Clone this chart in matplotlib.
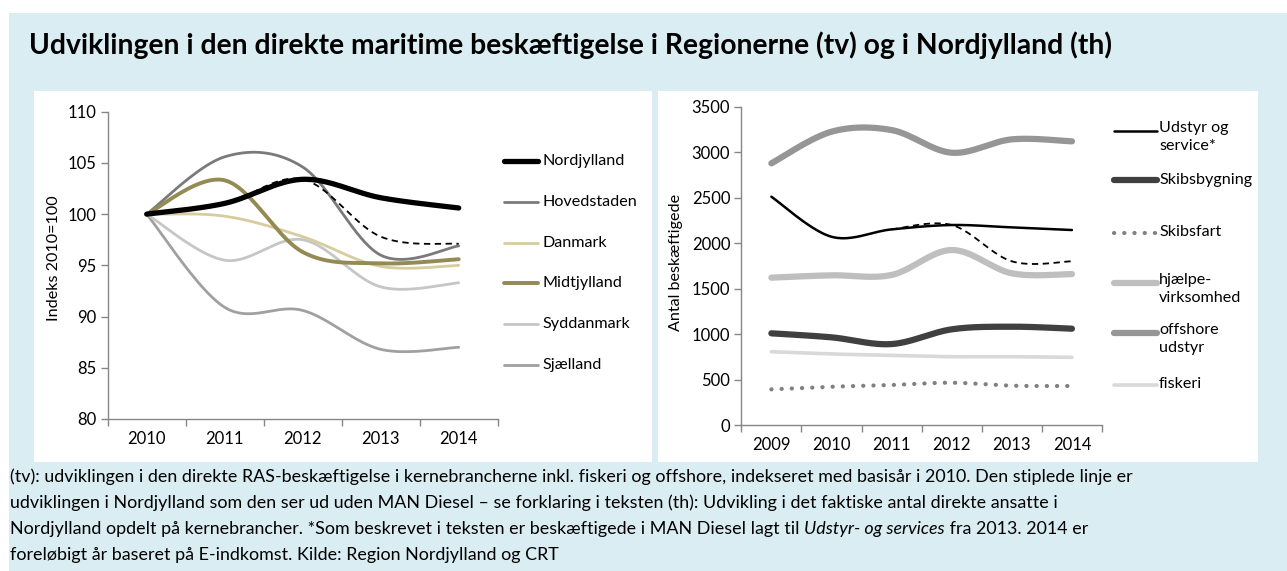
import numpy as np
import matplotlib
matplotlib.use("Agg")
import matplotlib.pyplot as plt
from matplotlib.lines import Line2D
from matplotlib.patches import Rectangle

plt.rcParams['font.family'] = ['Lato', 'DejaVu Sans']

# ---------------- data ----------------
years_left = ["2010", "2011", "2012", "2013", "2014"]
nordjylland = [100, 101.05, 103.4, 101.6, 100.6]
nordjylland_uden_man = [100, 101.05, 103.4, 97.8, 97.1]
hovedstaden = [100, 105.6, 104.6, 96.0, 96.9]
danmark = [100, 99.8, 97.8, 94.9, 95.0]
midtjylland = [100, 103.3, 96.3, 95.2, 95.6]
syddanmark = [100, 95.5, 97.5, 92.9, 93.3]
sjaelland = [100, 90.9, 90.6, 86.8, 87.0]

years_right = ["2009", "2010", "2011", "2012", "2013", "2014"]
udstyr = [2510, 2070, 2151, 2199, 2173, 2144]
udstyr_uden_man = [None, None, 2151, 2199, 1800, 1800]
skibsbygning = [1008, 964, 890, 1052, 1081, 1059]
skibsfart = [392, 421, 440, 465, 432, 429]
hjaelpe = [1620, 1646, 1650, 1924, 1668, 1660]
offshore = [2877, 3225, 3243, 2994, 3141, 3119]
fiskeri = [806, 781, 766, 751, 751, 744]

title = "Udviklingen i den direkte maritime beskæftigelse i Regionerne (tv) og i Nordjylland (th)"

W, H = 1287, 571
fig = plt.figure(figsize=(W / 100, H / 100), dpi=100, facecolor="white")

BLUE = "#DAEDF3"
AX = "#868686"
TICK_FS = 12.0
LEG_FS = 11.6


def fx(px):
    return px / W


def fy(py):
    return 1 - py / H


def rect(x0, y0, x1, y1, color):
    fig.add_artist(Rectangle((fx(x0), fy(y1)), fx(x1) - fx(x0), fy(y0) - fy(y1),
                             transform=fig.transFigure, facecolor=color,
                             edgecolor="none", zorder=0))


rect(9, 13, W, H, BLUE)
rect(34, 91, 652, 462, "white")
rect(658, 91, 1258, 462, "white")


def smooth(xs, ys, n=40):
    """Excel-style smoothed line (Catmull-Rom Bezier) through the points."""
    pts = [(x, y) for x, y in zip(xs, ys) if y is not None]
    P = np.array(pts, dtype=float)
    out = []
    for i in range(len(P) - 1):
        p0 = P[i - 1] if i > 0 else P[i]
        p1 = P[i]
        p2 = P[i + 1]
        p3 = P[i + 2] if i + 2 < len(P) else P[i + 1]
        c1 = p1 + (p2 - p0) / 6
        c2 = p2 - (p3 - p1) / 6
        t = np.linspace(0, 1, n)[:, None]
        seg = ((1 - t) ** 3) * p1 + 3 * ((1 - t) ** 2) * t * c1 + 3 * (1 - t) * t ** 2 * c2 + t ** 3 * p2
        if i > 0:
            seg = seg[1:]
        out.append(seg)
    S = np.vstack(out)
    return S[:, 0], S[:, 1]


def style_axes(ax, ncat, ymin, ymax, step):
    ax.set_facecolor("none")
    ax.set_xlim(-0.5, ncat - 0.5)
    ax.set_ylim(ymin, ymax)
    for s in ["top", "right"]:
        ax.spines[s].set_visible(False)
    for s in ["left", "bottom"]:
        ax.spines[s].set_color(AX)
        ax.spines[s].set_linewidth(1.0)
    ax.set_yticks(np.arange(ymin, ymax + step / 2, step))
    ax.set_xticks(np.arange(ncat))
    ax.set_xticks(np.arange(ncat + 1) - 0.5, minor=True)
    ax.tick_params(axis="x", which="major", length=0, pad=9, labelsize=TICK_FS)
    ax.tick_params(axis="x", which="minor", length=5, color=AX, width=1.0)
    ax.tick_params(axis="y", length=5, color=AX, width=1.0, labelsize=TICK_FS, pad=3)


DOT = (0, (0.05, 2.4))

# ---------------- left chart ----------------
axL = fig.add_axes([fx(107.7), fy(419), fx(497.7) - fx(107.7), fy(111.7) - fy(419)])
style_axes(axL, len(years_left), 80, 110, 5)
axL.set_xticklabels(years_left)
axL.set_ylabel("Indeks 2010=100", fontsize=LEG_FS, va="center")
axL.yaxis.set_label_coords((54 - 107.7) / 390.0, 0.524)

xl = np.arange(len(years_left))
left_series = [
    ("Sjælland", sjaelland, "#A0A0A0", 2.0, "-"),
    ("Syddanmark", syddanmark, "#C6C6C6", 2.0, "-"),
    ("Danmark", danmark, "#D6CC9E", 2.0, "-"),
    ("Hovedstaden", hovedstaden, "#7A7A7A", 2.0, "-"),
    ("Midtjylland", midtjylland, "#948A54", 2.8, "-"),
]
for name, vals, c, lw, ls in left_series:
    sx, sy = smooth(xl, vals)
    axL.plot(sx, sy, color=c, lw=lw, ls=ls, solid_capstyle="round")
sx, sy = smooth(xl, nordjylland_uden_man)
axL.plot(sx, sy, color="black", lw=1.3, ls=(0, (3.5, 2.5)))
sx, sy = smooth(xl, nordjylland)
axL.plot(sx, sy, color="black", lw=3.8, solid_capstyle="round")

leg_left = [
    ("Nordjylland", "black", 3.8),
    ("Hovedstaden", "#7A7A7A", 2.0),
    ("Danmark", "#D6CC9E", 2.0),
    ("Midtjylland", "#948A54", 2.8),
    ("Syddanmark", "#C6C6C6", 2.0),
    ("Sjælland", "#A0A0A0", 2.0),
]
for i, (name, c, lw) in enumerate(leg_left):
    y = 161 + i * 40.8
    fig.add_artist(Line2D([fx(504), fx(538)], [fy(y), fy(y)], transform=fig.transFigure,
                          color=c, lw=lw, solid_capstyle="round"))
    fig.text(fx(542), fy(y), name, fontsize=LEG_FS, va="center", ha="left")

# ---------------- right chart ----------------
axR = fig.add_axes([fx(741.3), fy(425), fx(1102) - fx(741.3), fy(106.7) - fy(425)])
style_axes(axR, len(years_right), 0, 3500, 500)
axR.set_xticklabels(years_right)
axR.set_ylabel("Antal beskæftigede", fontsize=LEG_FS, va="center")
axR.yaxis.set_label_coords((676 - 741.3) / 360.7, 0.512)

xr = np.arange(len(years_right))
right_series = [
    ("fiskeri", fiskeri, "#D9D9D9", 2.6, "-"),
    ("hjælpe", hjaelpe, "#BFBFBF", 4.5, "-"),
    ("offshore", offshore, "#969696", 4.5, "-"),
    ("Skibsbygning", skibsbygning, "#404040", 4.5, "-"),
]
for name, vals, c, lw, ls in right_series:
    sx, sy = smooth(xr, vals)
    axR.plot(sx, sy, color=c, lw=lw, ls=ls, solid_capstyle="round")
sx, sy = smooth(xr, skibsfart)
axR.plot(sx, sy, color="#808080", lw=3.0, ls=DOT, dash_capstyle="round")
sx, sy = smooth(xr, udstyr_uden_man)
axR.plot(sx, sy, color="black", lw=1.3, ls=(0, (3.5, 2.5)))
sx, sy = smooth(xr, udstyr)
axR.plot(sx, sy, color="black", lw=1.8, solid_capstyle="round")

leg_right = [
    ("Udstyr og\nservice*", 131, "black", 1.8, "-"),
    ("Skibsbygning", 180, "#404040", 4.5, "-"),
    ("Skibsfart", 232.5, "#808080", 3.0, DOT),
    ("hjælpe-\nvirksomhed", 283, "#BFBFBF", 4.5, "-"),
    ("offshore\nudstyr", 333, "#969696", 4.5, "-"),
    ("fiskeri", 384.5, "#D9D9D9", 2.6, "-"),
]
for name, y, c, lw, ls in leg_right:
    fig.add_artist(Line2D([fx(1114), fx(1157)], [fy(y), fy(y)], transform=fig.transFigure,
                          color=c, lw=lw, ls=ls, solid_capstyle="round", dash_capstyle="round"))
    if "\n" in name:
        fig.text(fx(1159), fy(y - 10), name, fontsize=LEG_FS, va="top", ha="left", linespacing=1.35)
    else:
        fig.text(fx(1159), fy(y), name, fontsize=LEG_FS, va="center", ha="left")

# ---------------- title & caption ----------------
fig.text(fx(29), fy(45), title, fontsize=20.3, fontweight="bold", va="center", ha="left")

cap_lines = [
    "(tv): udviklingen i den direkte RAS-beskæftigelse i kernebrancherne inkl. fiskeri og offshore, indekseret med basisår i 2010. Den stiplede linje er",
    "udviklingen i Nordjylland som den ser ud uden MAN Diesel – se forklaring i teksten (th): Udvikling i det faktiske antal direkte ansatte i",
    None,
    "foreløbigt år baseret på E-indkomst. Kilde: Region Nordjylland og CRT",
]
cap_size = 12.9
for i, line in enumerate(cap_lines):
    if line is not None:
        fig.text(fx(10), fy(477 + i * 26), line, fontsize=cap_size, va="center", ha="left")

renderer = fig.canvas.get_renderer()
parts = [
    ("Nordjylland opdelt på kernebrancher. *Som beskrevet i teksten er beskæftigede i MAN Diesel lagt til ", "normal"),
    ("Udstyr- og services", "italic"),
    (" fra 2013. 2014 er", "normal"),
]
xpos = 10
for txt, st in parts:
    t = fig.text(fx(xpos), fy(477 + 2 * 26), txt, fontsize=cap_size, va="center", ha="left", style=st)
    bb = t.get_window_extent(renderer=renderer)
    xpos = bb.x1

fig.savefig("out.png", dpi=100, facecolor="white")
